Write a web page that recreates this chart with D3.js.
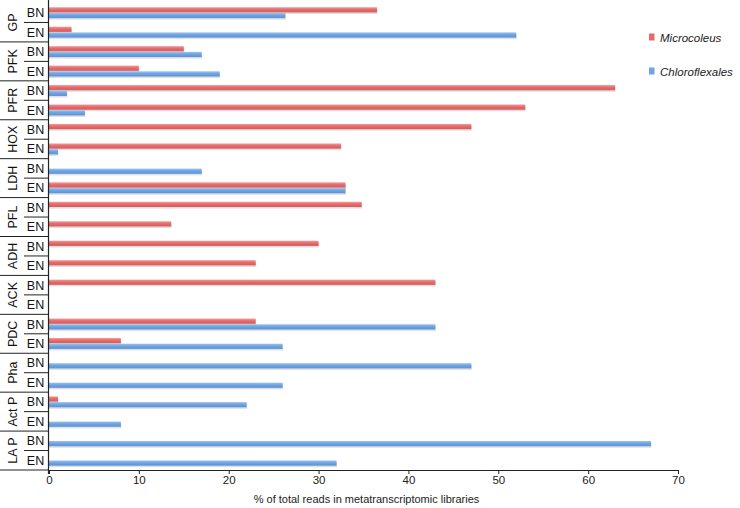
<!DOCTYPE html>
<html><head><meta charset="utf-8">
<script src="https://cdn.jsdelivr.net/npm/d3@7"></script>
<style>body{margin:0;background:#fff}svg{display:block}</style>
</head><body>
<svg id="c" width="740" height="508"></svg>
<script>
const genes = ["GP","PFK","PFR","HOX","LDH","PFL","ADH","ACK","PDC","Pha","ActP","LAP"];
const conditions = ["BN","EN"];
const seriesNames = ["Microcoleus","Chloroflexales"];
// values per gene: [BN, EN]
const microcoleus = [[36.5,2.5],[15,10],[63,53],[47,32.5],[0,33],[34.8,13.6],[30,23],[43,0],[23,8],[0,0],[1,0],[0,0]];
const chloroflexales = [[26.3,52],[17,19],[2,4],[0,1],[17,33],[0,0],[0,0],[0,0],[43,26],[47,26],[22,8],[67,32]];
const xTicks = [0,10,20,30,40,50,60,70];
const xLabel = "% of total reads in metatranscriptomic libraries";

(function(){
const svg = d3.select("#c");
const mLeft = 49, mRight = 678, mTop = 3, mBottom = 470;
const x = d3.scaleLinear().domain([0,70]).range([mLeft,mRight]);
const rows = [];
genes.forEach((g,gi)=>conditions.forEach((c,ci)=>rows.push({gene:g,cond:c,key:g+"_"+c,m:microcoleus[gi][ci],b:chloroflexales[gi][ci]})));
const y = d3.scaleBand().domain(rows.map(r=>r.key)).range([mTop,mBottom]);
const bw = y.bandwidth();

const defs = svg.append("defs");
function grad(id, c1, c2, c3){
  const g = defs.append("linearGradient").attr("id",id).attr("x1",0).attr("y1",0).attr("x2",0).attr("y2",1);
  g.append("stop").attr("offset","0%").attr("stop-color",c1);
  g.append("stop").attr("offset","45%").attr("stop-color",c2);
  g.append("stop").attr("offset","100%").attr("stop-color",c3);
}
grad("gr","#f19a9a","#e66a6a","#d95a5a");
grad("gb","#9cc3ee","#6ea4e2","#5a92d6");
const colors = {m:"url(#gr)", b:"url(#gb)"};
const barH = 5.2;

const g = svg.append("g");
const offs = [["m",-5.5],["b",0.2]];
rows.forEach(r=>{
  const y0 = y(r.key);
  offs.forEach(([k,o])=>{
    const yy = y0+bw*0.5+o;
    if(r[k]>0){
      g.append("rect").attr("x",x(0)).attr("y",yy+1.6).attr("width",x(r[k])-x(0)+0.5).attr("height",barH)
        .attr("fill","#000").attr("opacity",0.12);
    }
  });
});
rows.forEach(r=>{
  const y0 = y(r.key);
  offs.forEach(([k,o])=>{
    const yy = y0+bw*0.5+o;
    if(r[k]>0){
      g.append("rect").attr("x",x(0)).attr("y",yy).attr("width",x(r[k])-x(0)).attr("height",barH)
        .attr("fill",colors[k]);
    }
  });
});

const ax = svg.append("g").attr("transform",`translate(0,${mBottom})`)
  .call(d3.axisBottom(x).tickValues(xTicks).tickSize(4).tickSizeOuter(0));
ax.select(".domain").attr("stroke","#222").attr("stroke-width",1.2);
ax.selectAll(".tick line").attr("stroke","#222");
ax.selectAll(".tick text").attr("font-family","Liberation Sans, Arial, sans-serif").attr("font-size",11.5).attr("fill","#222").attr("y",5).attr("dy","0.75em");
svg.append("text").attr("x",(mLeft+mRight)/2+3).attr("y",503).attr("text-anchor","middle")
  .attr("font-family","Liberation Sans, Arial, sans-serif").attr("font-size",11).attr("fill","#222").text(xLabel);

const lab = svg.append("g").attr("font-family","Liberation Sans, Arial, sans-serif").attr("fill","#111");
lab.append("line").attr("x1",mLeft-0.5).attr("x2",mLeft-0.5).attr("y1",0).attr("y2",mBottom+4).attr("stroke","#222").attr("stroke-width",1.2);
genes.forEach((gname)=>{
  const yBN = y(gname+"_BN"), yEN = y(gname+"_EN");
  lab.append("line").attr("x1",0).attr("x2",mLeft).attr("y1",yEN+bw).attr("y2",yEN+bw).attr("stroke","#222");
  lab.append("line").attr("x1",24).attr("x2",mLeft).attr("y1",yEN).attr("y2",yEN).attr("stroke","#222");
  lab.append("text").attr("x",35.5).attr("y",yBN+bw/2).attr("dy","0.36em").attr("text-anchor","middle").attr("font-size",12.5).text("BN");
  lab.append("text").attr("x",35.5).attr("y",yEN+bw/2).attr("dy","0.36em").attr("text-anchor","middle").attr("font-size",12.5).text("EN");
  lab.append("text").attr("transform",`translate(12,${yEN}) rotate(-90)`).attr("dy","0.36em").attr("text-anchor","middle").attr("font-size",12.5)
    .text(gname==="ActP"?"Act P":gname==="LAP"?"LA P":gname);
});

const leg = svg.append("g").attr("font-family","Liberation Sans, Arial, sans-serif");
[["#e66a6a",38],["#6ea4e2",72]].forEach(([c,yy],i)=>{
  leg.append("rect").attr("x",649).attr("y",yy-4.5).attr("width",5.5).attr("height",7).attr("fill",c);
  leg.append("text").attr("x",660).attr("y",yy).attr("dy","0.35em").attr("font-size",11.5).attr("font-style","italic").attr("fill","#222").text(seriesNames[i]);
});
})();
</script>
</body></html>
